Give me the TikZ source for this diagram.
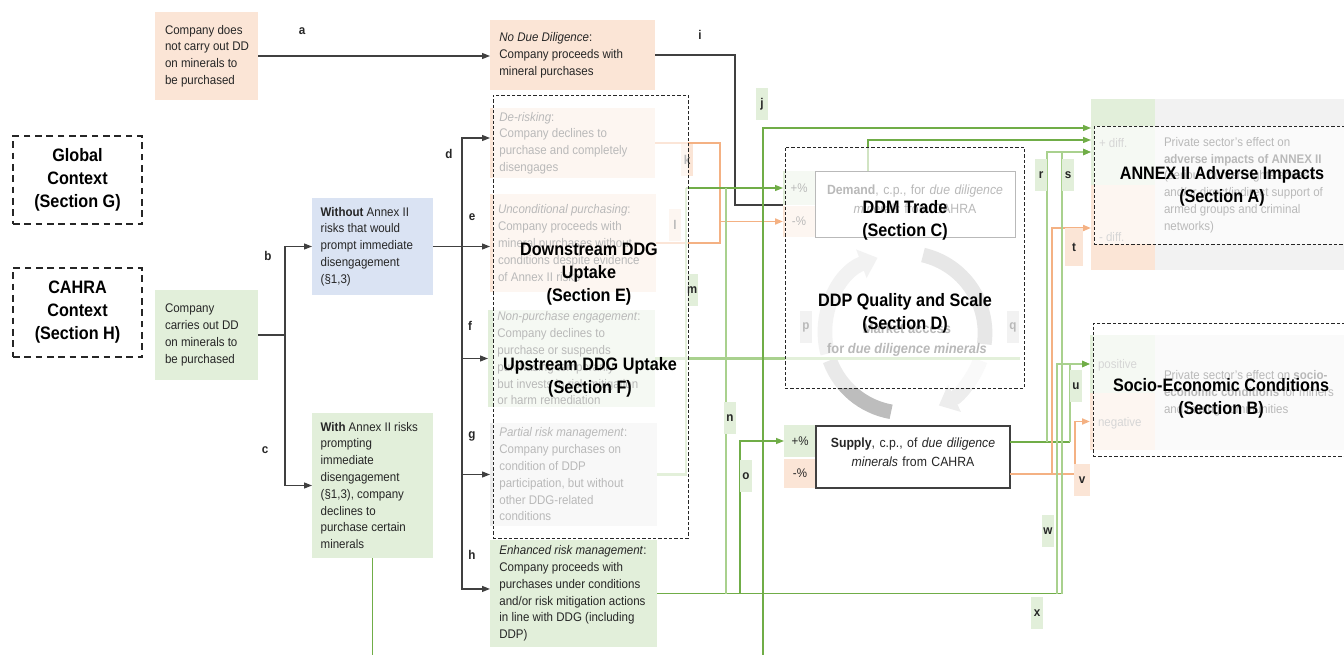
\documentclass[tikz,border=0pt]{standalone}
\usepackage{fontspec}
\setmainfont{Liberation Sans}[FakeStretch=0.92]
\newfontfamily\headfont{Liberation Sans}[FakeStretch=0.9]
\usetikzlibrary{fit,arrows.meta}

\definecolor{ink}{HTML}{262626}
\definecolor{dark}{HTML}{404040}
\definecolor{peach}{HTML}{FBE5D6}
\definecolor{mint}{HTML}{E2EFDA}
\definecolor{sky}{HTML}{DAE3F3}
\definecolor{fog}{HTML}{EBEBEB}
\definecolor{fogpanel}{HTML}{F2F2F2}
\definecolor{fogtag}{HTML}{D9D9D9}
\definecolor{lgreen}{HTML}{70AD47}
\definecolor{pgreen}{HTML}{A9D18E}
\definecolor{orng}{HTML}{F4B183}
\definecolor{arcA}{HTML}{D9D9D9}
\definecolor{arcB}{HTML}{B5B5B5}
\definecolor{arcC}{HTML}{EDEDED}
\definecolor{arcD}{HTML}{BDBDBD}

\begin{document}
\begin{tikzpicture}[x=0.75pt,y=-0.75pt,
  panel/.style={inner sep=0pt, outer sep=0pt, draw=none},
  txt/.style={inner sep=0pt, outer sep=0pt, align=left, anchor=west, text=ink,
    font=\fontsize{9.4}{12.6}\selectfont},
  head/.style={inner sep=0pt, align=center, text=black,
    font=\headfont\bfseries\fontsize{13.5}{17.3}\selectfont},
  tag/.style={inner sep=0pt, text=ink, font=\bfseries\fontsize{9.5}{10}\selectfont},
  tagbox/.style={tag, minimum width=9.5pt, minimum height=24pt},
  ctxbox/.style={draw=ink, line width=1.3pt, dash pattern=on 5pt off 3.5pt},
  secbox/.style={draw=ink, line width=0.7pt, dash pattern=on 2.5pt off 1.5pt,
    fill=white, fill opacity=0.68, inner sep=0pt, outer sep=0pt},
  tip/.style={-{Triangle[length=6pt,width=4.5pt]}},
  tipg/.style={-{Triangle[length=6pt,width=4.5pt,color=lgreen]}},
  dk/.style={draw=dark, line width=0.9pt},
  gl/.style={draw=lgreen, line width=1pt},
  pg/.style={draw=pgreen, line width=1.6pt},
  og/.style={draw=orng, line width=1.4pt},
  ring/.style={line width=11pt},
]
\useasboundingbox (0,0) rectangle (1344,655);

% ---------- coloured panels ----------
\node[panel, fill=peach, fit={(155,12)(258,100)}] (start-nodd) {};
\node[panel, fill=mint, fit={(155,290)(258,380)}] (start-dd) {};
\node[panel, fill=sky, fit={(312,198)(433,295)}] (without) {};
\node[panel, fill=mint, fit={(312,413)(433,558)}] (with) {};
\node[panel, fill=peach, fit={(490,20)(655,90)}] (nodd) {};
\node[panel, fill=peach, fit={(490,108)(655,178)}] (derisk) {};
\node[panel, fill=peach, fit={(490,194)(656,292)}] (uncond) {};
\node[panel, fill=mint, fit={(488,310)(655,407)}] (nonpurch) {};
\node[panel, fill=fog, fit={(490,423)(657,526)}] (partial) {};
\node[panel, fill=mint, fit={(490,540)(657,647)}] (enhanced) {};

\node[panel, fill=mint, fit={(783,171)(815,205)}] (dem-plus) {};
\node[panel, fill=peach, fit={(783,206)(815,237)}] (dem-minus) {};
\node[panel, fill=mint, fit={(784,425)(816,457)}] (sup-plus) {};
\node[panel, fill=peach, fit={(784,459)(816,488)}] (sup-minus) {};

\node[panel, fill=mint, fit={(1091,99)(1155,185)}] (annex-plus) {};
\node[panel, fill=peach, fit={(1091,185)(1155,270)}] (annex-minus) {};
\node[panel, fill=fogpanel, fit={(1155,99)(1350,270)}] (annex-bg) {};
\node[panel, fill=mint, fit={(1090,335)(1155,393)}] (socio-plus) {};
\node[panel, fill=peach, fit={(1090,393)(1155,450)}] (socio-minus) {};
\node[panel, fill=fogpanel, fit={(1155,335)(1350,450)}] (socio-bg) {};

% ---------- market-access cycle ----------
\draw[ring, draw=arcA, -{Triangle[length=13pt,width=22pt]}]
  ([shift={(165:80)}]905,333) arc[start angle=165, end angle=250, radius=80];
\draw[ring, draw=arcB]
  ([shift={(283:80)}]905,333) arc[start angle=283, end angle=368, radius=80];
\draw[ring, draw=arcC, -{Triangle[length=13pt,width=22pt]}]
  ([shift={(20:80)}]905,333) arc[start angle=20, end angle=65, radius=80];
\draw[ring, draw=arcD]
  ([shift={(100:80)}]905,333) arc[start angle=100, end angle=160, radius=80];
\node[align=center, inner sep=0pt, text=ink, font=\bfseries\fontsize{10.5}{15}\selectfont]
  (market) at (907,340) {Market access\\for \textit{due diligence minerals}};

% ---------- box texts ----------
\node[txt] (t-start-nodd) at ([xshift=7.5pt]start-nodd.west)
  {Company does\\not carry out DD\\on minerals to\\be purchased};
\node[txt] (t-start-dd) at ([xshift=7.5pt]start-dd.west)
  {Company\\carries out DD\\on minerals to\\be purchased};
\node[txt] (t-without) at ([xshift=6.5pt]without.west)
  {\textbf{Without} Annex II\\risks that would\\prompt immediate\\disengagement\\(§1,3)};
\node[txt] (t-with) at ([xshift=6.5pt]with.west)
  {\textbf{With} Annex II risks\\prompting\\immediate\\disengagement\\(§1,3), company\\declines to\\purchase certain\\minerals};
\node[txt] (t-nodd) at ([xshift=7pt]nodd.west)
  {\textit{No Due Diligence}:\\Company proceeds with\\mineral purchases};
\node[txt] (t-derisk) at ([xshift=7pt]derisk.west)
  {\textit{De-risking}:\\Company declines to\\purchase and completely\\disengages};
\node[txt] (t-uncond) at ([xshift=6pt]uncond.west)
  {\textit{Unconditional purchasing}:\\Company proceeds with\\mineral purchases without\\conditions despite evidence\\of Annex II risks};
\node[txt] (t-nonpurch) at ([xshift=7pt]nonpurch.west)
  {\textit{Non-purchase engagement}:\\Company declines to\\purchase or suspends\\purchasing temporarily\\but invests in risk mitigation\\or harm remediation};
\node[txt] (t-partial) at ([xshift=7pt]partial.west)
  {\textit{Partial risk management}:\\Company purchases on\\condition of DDP\\participation, but without\\other DDG-related\\conditions};
\node[txt] (t-enhanced) at ([xshift=7pt]enhanced.west)
  {\textit{Enhanced risk management}:\\Company proceeds with\\purchases under conditions\\and/or risk mitigation actions\\in line with DDG (including\\DDP)};

\node[tag, font=\fontsize{9.4}{10}\selectfont] at (dem-plus) {+\%};
\node[tag, font=\fontsize{9.4}{10}\selectfont] at (dem-minus) {-\%};
\node[tag, font=\fontsize{9.4}{10}\selectfont] at (sup-plus) {+\%};
\node[tag, font=\fontsize{9.4}{10}\selectfont] at (sup-minus) {-\%};

\node[panel, draw=ink, line width=0.7pt, fill=white, fit={(815,171)(1015,237)},
  align=center, text=ink, font=\fontsize{10}{14}\selectfont] (demand)
  {\textbf{Demand}, c.p., for \textit{due diligence}\\\textit{minerals} from CAHRA};
\node[panel, draw=dark, line width=0.9pt, fill=white, fit={(816,426)(1010,488)},
  align=center, text=ink, font=\fontsize{10}{14}\selectfont] (supply)
  {\textbf{Supply}, c.p., of \textit{due diligence}\\\textit{minerals} from CAHRA};

\node[txt, text=gray] (t-plusdiff) at (1099,143) {+ diff.};
\node[txt, text=gray] (t-minusdiff) at (1099,237) {- diff.};
\node[txt, text=gray] (t-positive) at (1098,365) {positive};
\node[txt, text=gray] (t-negative) at (1098,423) {negative};
\node[txt] (desc-a) at (1164,185)
  {Private sector’s effect on\\\textbf{adverse impacts of ANNEX II}\\(serious human rights abuses\\and/or direct/indirect support of\\armed groups and criminal\\networks)};
\node[txt] (desc-b) at (1164,393)
  {Private sector’s effect on \textbf{socio-}\\\textbf{economic conditions} for miners\\and mining communities};

% ---------- connectors ----------
\draw[dk, tip] (start-nodd.east) -- (start-nodd.east -| nodd.west);
\coordinate (fork-bc) at (285,335);
\draw[dk] (start-dd.east) -- (fork-bc);
\draw[dk, tip] (fork-bc) |- (without.west);
\draw[dk, tip] (fork-bc) |- (with.west);
\draw[gl] (with.south) -- (with.south |- 0,655);

\coordinate (fork-dh) at (462,246.5);
\draw[dk, tip] (without.east) -- (without.east -| uncond.west);
\draw[dk, tip] (fork-dh) |- ([yshift=3.75pt]derisk.west);
\draw[dk, tip] (fork-dh) |- (nonpurch.west);
\draw[dk, tip] (fork-dh) |- (partial.west);
\draw[dk, tip] (fork-dh) |- ([yshift=3.4pt]enhanced.west);

% i : no due diligence into demand
\draw[dk] (nodd.east) -| (735,205) -- (dem-plus.south west);
% k, l : de-risking and unconditional purchasing
\draw[og] (derisk.east) -| (720,243) -- (uncond.east);
\draw[og, tip] (720,221.5) -- (dem-minus.west);
% m : partial risk management
\draw[pg] (partial.east) -| (686,188);
\draw[gl, tip] (686,188) -- (dem-plus.west);
% f : non-purchase engagement
\draw[pg] (nonpurch.east) -- (1020,358.5);
% n, o : enhanced risk management
\draw[gl] (enhanced.east) -- (1062,593.5);
\draw[pg] (726,188) -- (726,593.5);
\draw[gl, tip] (740,593.5) |- (sup-plus.west);
% j
\draw[gl, tip] (763,655) |- (annex-plus.west |- 0,128);
% demand into annex II impacts
\draw[gl, tip] (demand.north -| 868,0) |- (annex-plus.west |- 0,140);
% supply outputs
\draw[gl] (supply.east |- 0,442) -- (1070,442);
\draw[pg, tipg] (1047,442) |- (annex-plus.west |- 0,152);
\draw[pg, tipg] (1070,442) |- (socio-plus.west);
\draw[og] (supply.east |- 0,474) -- (1075,474);
\draw[og, tip] (1052,474) |- (annex-minus.west |- 0,228);
\draw[og, tip] (1075,474) |- (socio-minus.west);
% enhanced management into impacts
\draw[pg, tipg] (1062,593.5) |- (annex-plus.west |- 0,152);
\draw[pg, tipg] (1057,593.5) |- (socio-plus.west);

% ---------- connector letters ----------
\node[tag] (lab-a) at (302,31) {a};
\node[tag] (lab-b) at (268,256) {b};
\node[tag] (lab-c) at (265,450) {c};
\node[tag] (lab-d) at (449,154) {d};
\node[tag] (lab-e) at (472,217) {e};
\node[tag] (lab-f) at (470,326) {f};
\node[tag] (lab-g) at (472,436) {g};
\node[tag] (lab-h) at (472,555) {h};
\node[tag] (lab-i) at (700,35) {i};
\node[tagbox, fill=mint] (lab-j) at (762,104) {j};
\node[tagbox, fill=peach] (lab-k) at (687,160) {k};
\node[tagbox, fill=peach] (lab-l) at (675,225) {l};
\node[tagbox, fill=mint] (lab-m) at (692,290) {m};
\node[tagbox, fill=mint] (lab-n) at (730,418) {n};
\node[tagbox, fill=mint] (lab-o) at (746,476) {o};
\node[tagbox, fill=fogtag] (lab-p) at (806,327) {p};
\node[tagbox, fill=fogtag] (lab-q) at (1013,327) {q};
\node[tagbox, fill=mint] (lab-r) at (1041,175) {r};
\node[tagbox, fill=mint] (lab-s) at (1068,175) {s};
\node[tagbox, fill=peach, minimum width=13pt, minimum height=28pt] (lab-t) at (1074,247) {t};
\node[tagbox, fill=mint] (lab-u) at (1076,386) {u};
\node[tagbox, fill=peach, minimum width=12pt] (lab-v) at (1082,480) {v};
\node[tagbox, fill=mint] (lab-w) at (1048,531) {w};
\node[tagbox, fill=mint] (lab-x) at (1037,613) {x};

% ---------- section frames ----------
\node[secbox, fit={(493,95)(688,538)}] (sec-ef) {};
\node[secbox, fit={(785,147)(1024,388)}] (sec-cd) {};
\node[secbox, fit={(1094,126)(1350,244)}] (sec-a) {};
\node[secbox, fit={(1093,323)(1350,456)}] (sec-b) {};

\node[ctxbox, fit={(13,136)(142,224)}, inner sep=0pt] (ctx-g) {};
\node[head] at (ctx-g) {Global\\Context\\(Section G)};
\node[ctxbox, fit={(13,268)(142,357)}, inner sep=0pt] (ctx-h) {};
\node[head] at (ctx-h) {CAHRA\\Context\\(Section H)};

% ---------- section headings ----------
\node[head] (h-e) at (589,274) {Downstream DDG\\Uptake\\(Section E)};
\node[head] (h-f) at (590,377) {Upstream DDG Uptake\\(Section F)};
\node[head] (h-c) at (905,220) {DDM Trade\\(Section C)};
\node[head] (h-d) at (905,313) {DDP Quality and Scale\\(Section D)};
\node[head] (h-a) at (1222,186) {ANNEX II Adverse Impacts\\(Section A)};
\node[head] (h-b) at (1221,398) {Socio-Economic Conditions\\(Section B)};
\end{tikzpicture}
\end{document}
